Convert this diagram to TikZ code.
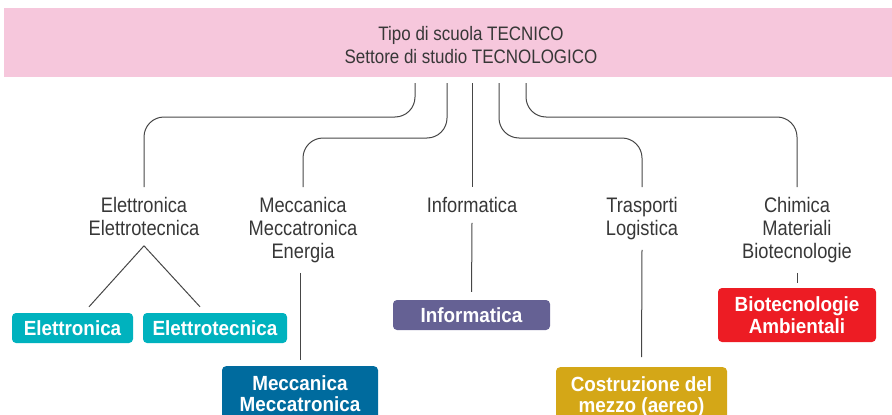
\documentclass[tikz,border=0pt]{standalone}
\usepackage{fontspec}
\setmainfont{Liberation Sans}[FakeStretch=0.87]
\newfontfamily\boxfont{Liberation Sans}[FakeStretch=0.92]
\usetikzlibrary{calc}
\definecolor{pinkc}{RGB}{246,199,220}
\definecolor{tealc}{RGB}{0,178,190}
\definecolor{bluec}{RGB}{0,107,158}
\definecolor{purplec}{RGB}{101,97,148}
\definecolor{goldc}{RGB}{212,167,23}
\definecolor{redc}{RGB}{237,28,36}
\definecolor{textc}{RGB}{55,55,55}
\definecolor{linec}{RGB}{70,70,70}
\begin{document}
\begin{tikzpicture}[x=1pt,y=-1pt,
  conn/.style={draw=linec, line width=1pt, rounded corners=20pt},
  seg/.style={draw=linec, line width=1pt},
  lbl/.style={text=textc, font=\fontsize{21}{23}\selectfont, align=center, inner xsep=0pt, inner ysep=10pt},
  catbox/.style={rounded corners=4pt, text=white, font=\boxfont\bfseries\fontsize{20.5}{21.5}\selectfont, align=center, inner sep=0pt}]
\useasboundingbox (0,0) rectangle (892,415);
\clip (0,0) rectangle (892,415);
% banner
\node[fill=pinkc, minimum width=888pt, minimum height=69pt, inner sep=0pt, anchor=north west] (banner) at (4,8) {};
\node[text=textc, font=\fontsize{19.5}{23}\selectfont, align=center, inner sep=0pt] (title) at (471,45.5) {Tipo di scuola TECNICO\\Settore di studio TECNOLOGICO};
% start points
\coordinate (s1) at (415,83);
\coordinate (s2) at (447,83);
\coordinate (s3) at (472,83);
\coordinate (s4) at (499,83);
\coordinate (s5) at (526,83);
% labels
\node[lbl, anchor=north] (el) at (144,187) {Elettronica\\Elettrotecnica};
\node[lbl, anchor=north] (mec) at (303,187) {Meccanica\\Meccatronica\\Energia};
\node[lbl, anchor=north] (inf) at (472,187) {Informatica};
\node[lbl, anchor=north] (tra) at (642,187) {Trasporti\\Logistica};
\node[lbl, anchor=north] (chi) at (797,187) {Chimica\\Materiali\\Biotecnologie};
% boxes
\node[catbox, fill=tealc, minimum width=121pt, minimum height=30pt] (elbox) at (72.5,328) {Elettronica};
\node[catbox, fill=tealc, minimum width=144pt, minimum height=30pt] (etbox) at (215,328) {Elettrotecnica};
\node[catbox, fill=bluec, minimum width=156pt, anchor=north, inner ysep=9pt, text depth=40pt] (mecbox) at (300,366) {Meccanica\\Meccatronica};
\node[catbox, fill=purplec, minimum width=157pt, minimum height=30pt] (infbox) at (471.5,315) {Informatica};
\node[catbox, fill=goldc, minimum width=171pt, anchor=north, inner ysep=9pt, text depth=40pt] (costbox) at (641.5,367) {Costruzione del\\mezzo (aereo)};
\node[catbox, fill=redc, minimum width=158pt, minimum height=54pt] (biobox) at (797,315) {Biotecnologie\\Ambientali};
% connectors from banner
\draw[conn] (s1) -- ++(0,34) -| (el.north);
\draw[conn] (s2) -- ++(0,55) -| (mec.north);
\draw[seg] (s3) -- (inf.north);
\draw[conn] (s4) -- ++(0,55) -| (tra.north);
\draw[conn] (s5) -- ++(0,34) -| (chi.north);
% lower connectors
\draw[seg] (el.south) -- ($(elbox.north)+(16.5,-6)$);
\draw[seg] (el.south) -- ($(etbox.north)+(-15,-6)$);
\draw[seg, shorten >=6pt] (mec.south -| mecbox.north) -- (mecbox.north);
\draw[seg, shorten >=8pt] (inf.south) -- (infbox.north);
\draw[seg, shorten >=10pt] (tra.south) -- (costbox.north);
\draw[seg, shorten >=5pt] (chi.south) -- (biobox.north);
\end{tikzpicture}
\end{document}
